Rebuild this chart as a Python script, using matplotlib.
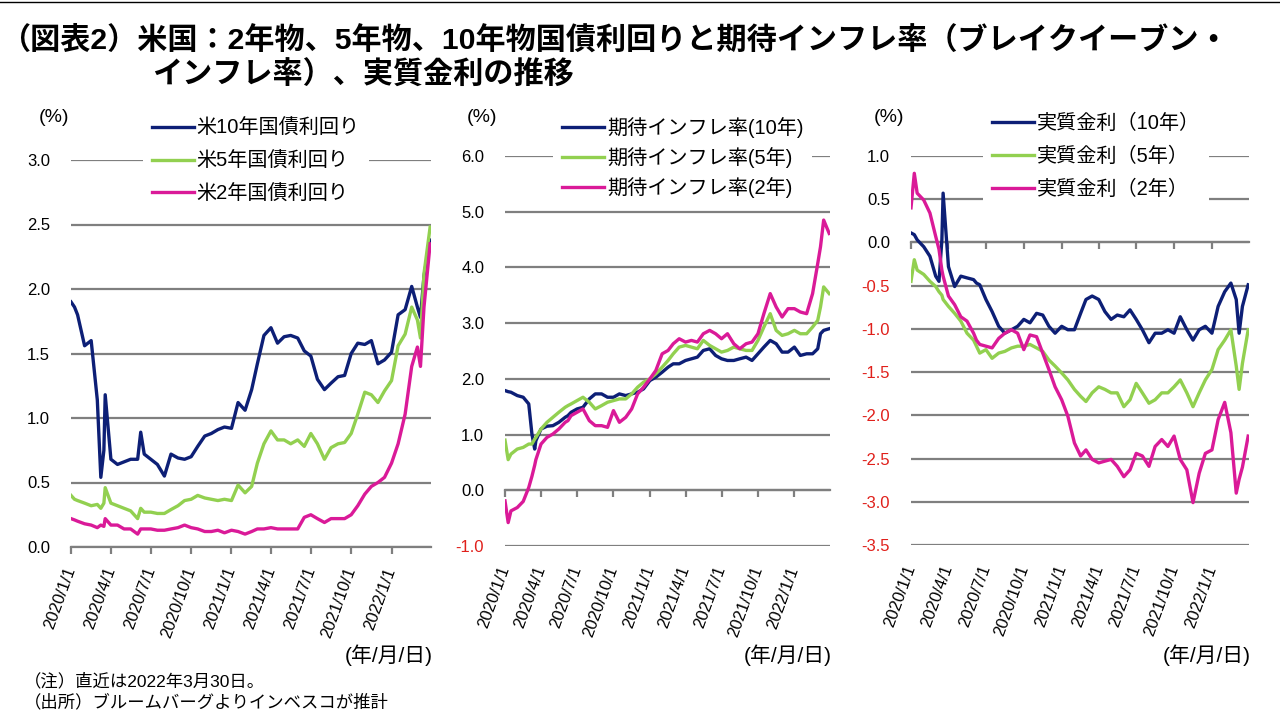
import pandas as pd
import matplotlib
matplotlib.use("Agg")
import matplotlib.pyplot as plt
import matplotlib.dates as mdates
import matplotlib.transforms as mtransforms
from matplotlib.lines import Line2D

plt.rcParams['font.family'] = ['Liberation Sans', 'Noto Sans CJK JP']

# observation dates (roughly semi-monthly, extra points around sharp moves)
dates = pd.to_datetime([
    "2020-01-01", "2020-01-09", "2020-01-16", "2020-02-01", "2020-02-16",
    "2020-03-01", "2020-03-09", "2020-03-16", "2020-03-19", "2020-04-01",
    "2020-04-16", "2020-05-01", "2020-05-16", "2020-06-01", "2020-06-08",
    "2020-06-16", "2020-07-01", "2020-07-16", "2020-08-01", "2020-08-16",
    "2020-09-01", "2020-09-16", "2020-10-01", "2020-10-16", "2020-11-01",
    "2020-11-16", "2020-12-01", "2020-12-16", "2021-01-01", "2021-01-16",
    "2021-02-01", "2021-02-16", "2021-03-01", "2021-03-16", "2021-04-01",
    "2021-04-16", "2021-05-01", "2021-05-16", "2021-06-01", "2021-06-16",
    "2021-07-01", "2021-07-16", "2021-08-01", "2021-08-16", "2021-09-01",
    "2021-09-16", "2021-10-01", "2021-10-16", "2021-11-01", "2021-11-16",
    "2021-12-01", "2021-12-16", "2022-01-01", "2022-01-16", "2022-02-01",
    "2022-02-16", "2022-03-01", "2022-03-08", "2022-03-16", "2022-03-30",
])

# panel 1: nominal yields (%)
yield_10y = [1.90, 1.86, 1.80, 1.56, 1.60, 1.14, 0.54, 0.75, 1.18, 0.68,
             0.64, 0.66, 0.68, 0.68, 0.89, 0.72, 0.68, 0.64, 0.55, 0.72,
             0.69, 0.68, 0.70, 0.78, 0.86, 0.88, 0.91, 0.93, 0.92, 1.12,
             1.06, 1.22, 1.42, 1.64, 1.70, 1.58, 1.63, 1.64, 1.62, 1.52,
             1.48, 1.30, 1.22, 1.27, 1.32, 1.33, 1.50, 1.58, 1.57, 1.60,
             1.42, 1.45, 1.51, 1.80, 1.84, 2.02, 1.86, 1.78, 2.10, 2.38]
yield_5y = [0.40, 0.37, 0.36, 0.34, 0.32, 0.33, 0.30, 0.34, 0.46, 0.34,
            0.32, 0.30, 0.28, 0.22, 0.30, 0.27, 0.27, 0.26, 0.26, 0.29,
            0.32, 0.36, 0.37, 0.40, 0.38, 0.37, 0.36, 0.37, 0.36, 0.48,
            0.42, 0.47, 0.65, 0.80, 0.90, 0.83, 0.83, 0.80, 0.83, 0.78,
            0.88, 0.80, 0.68, 0.77, 0.80, 0.81, 0.88, 1.03, 1.20, 1.18,
            1.12, 1.21, 1.29, 1.56, 1.65, 1.86, 1.76, 1.62, 2.12, 2.48]
yield_2y = [0.22, 0.21, 0.20, 0.18, 0.17, 0.15, 0.17, 0.16, 0.22, 0.17,
            0.17, 0.14, 0.14, 0.10, 0.14, 0.14, 0.14, 0.13, 0.13, 0.14,
            0.15, 0.17, 0.15, 0.14, 0.12, 0.12, 0.13, 0.11, 0.13, 0.12,
            0.10, 0.12, 0.14, 0.14, 0.15, 0.14, 0.14, 0.14, 0.14, 0.23,
            0.25, 0.22, 0.19, 0.22, 0.22, 0.22, 0.25, 0.32, 0.41, 0.47,
            0.50, 0.54, 0.65, 0.80, 1.03, 1.40, 1.55, 1.40, 1.86, 2.35]

# panel 2: breakeven inflation (%)
bei_10y = [1.79, 1.77, 1.76, 1.70, 1.67, 1.55, 1.01, 0.74, 0.89, 1.10,
           1.15, 1.16, 1.22, 1.31, 1.34, 1.40, 1.46, 1.49, 1.64, 1.73,
           1.73, 1.67, 1.67, 1.73, 1.70, 1.73, 1.76, 1.82, 1.97, 2.03,
           2.12, 2.21, 2.27, 2.27, 2.33, 2.36, 2.39, 2.51, 2.54, 2.42,
           2.36, 2.33, 2.33, 2.36, 2.39, 2.33, 2.45, 2.57, 2.69, 2.63,
           2.48, 2.48, 2.57, 2.42, 2.45, 2.45, 2.54, 2.81, 2.87, 2.90]
bei_5y = [0.90, 0.55, 0.65, 0.74, 0.77, 0.83, 0.83, 0.92, 0.95, 1.10,
          1.22, 1.31, 1.40, 1.49, 1.52, 1.55, 1.61, 1.67, 1.58, 1.46,
          1.52, 1.58, 1.61, 1.64, 1.64, 1.73, 1.85, 1.94, 2.00, 2.09,
          2.21, 2.33, 2.45, 2.57, 2.60, 2.57, 2.54, 2.69, 2.60, 2.54,
          2.48, 2.51, 2.57, 2.54, 2.51, 2.51, 2.69, 2.93, 3.17, 2.87,
          2.78, 2.81, 2.87, 2.81, 2.81, 2.93, 3.05, 3.29, 3.65, 3.53]
bei_2y = [-0.19, -0.58, -0.37, -0.31, -0.20, 0.05, 0.25, 0.45, 0.55, 0.83,
          0.95, 1.01, 1.10, 1.22, 1.25, 1.34, 1.40, 1.46, 1.25, 1.16,
          1.16, 1.13, 1.43, 1.22, 1.31, 1.46, 1.73, 1.85, 2.00, 2.15,
          2.45, 2.51, 2.63, 2.72, 2.66, 2.69, 2.66, 2.81, 2.87, 2.81,
          2.72, 2.81, 2.63, 2.54, 2.63, 2.66, 2.81, 3.17, 3.53, 3.29,
          3.11, 3.26, 3.26, 3.20, 3.17, 3.53, 4.07, 4.37, 4.85, 4.61]

# panel 3: real yields (%)
real_10y = [0.11, 0.09, 0.03, -0.05, -0.16, -0.39, -0.45, 0.03, 0.57, -0.28,
            -0.51, -0.39, -0.41, -0.43, -0.47, -0.49, -0.66, -0.80, -0.97, -1.05,
            -1.01, -0.97, -0.89, -0.93, -0.82, -0.84, -0.97, -1.05, -0.97, -1.01,
            -1.01, -0.82, -0.66, -0.62, -0.66, -0.80, -0.89, -0.84, -0.86, -0.78,
            -0.89, -1.01, -1.16, -1.05, -1.05, -1.01, -1.05, -0.86, -1.01, -1.13,
            -1.01, -0.97, -1.05, -0.74, -0.57, -0.47, -0.66, -1.05, -0.74, -0.49]
real_5y = [-0.45, -0.20, -0.32, -0.37, -0.45, -0.51, -0.57, -0.61, -0.66, -0.74,
           -0.82, -0.91, -1.05, -1.13, -1.20, -1.28, -1.24, -1.34, -1.28, -1.26,
           -1.22, -1.20, -1.20, -1.18, -1.22, -1.26, -1.36, -1.43, -1.51, -1.59,
           -1.70, -1.78, -1.84, -1.74, -1.67, -1.70, -1.74, -1.74, -1.90, -1.82,
           -1.63, -1.74, -1.86, -1.82, -1.74, -1.74, -1.67, -1.59, -1.74, -1.90,
           -1.74, -1.59, -1.47, -1.24, -1.13, -1.01, -1.43, -1.70, -1.40, -1.01]
real_2y = [0.40, 0.80, 0.57, 0.49, 0.34, 0.07, -0.08, -0.32, -0.39, -0.62,
           -0.72, -0.86, -0.91, -1.05, -1.13, -1.18, -1.20, -1.22, -1.11, -1.05,
           -1.01, -1.05, -1.24, -1.07, -1.09, -1.28, -1.47, -1.67, -1.82, -2.01,
           -2.32, -2.47, -2.40, -2.51, -2.55, -2.53, -2.51, -2.59, -2.71, -2.63,
           -2.44, -2.47, -2.59, -2.36, -2.28, -2.36, -2.24, -2.51, -2.63, -3.01,
           -2.67, -2.44, -2.40, -2.05, -1.85, -2.20, -2.90, -2.74, -2.60, -2.24]

tick_dates = pd.to_datetime(["2020-01-01", "2020-04-01", "2020-07-01", "2020-10-01",
                             "2021-01-01", "2021-04-01", "2021-07-01", "2021-10-01",
                             "2022-01-01"])
tick_labels = ["2020/1/1", "2020/4/1", "2020/7/1", "2020/10/1", "2021/1/1",
               "2021/4/1", "2021/7/1", "2021/10/1", "2022/1/1"]

NAVY = "#0D1F76"
GREEN = "#92D050"
MAGENTA = "#DA1A98"
GRID = "#7F7F7F"
NEG_RED = "#E0201B"

W, H = 1280, 720
fig = plt.figure(figsize=(12.8, 7.2), dpi=100)

# thin frame line at the very top
fig.add_artist(Line2D([0, 1], [1 - 1.5 / H] * 2, color="black", lw=1.0))

fig.text(0 / W, 1 - 40 / H,
         "（図表2）米国：2年物、5年物、10年物国債利回りと期待インフレ率（ブレイクイーブン・",
         fontsize=21.7, fontweight="bold", ha="left", va="center")
fig.text(152 / W, 1 - 75 / H, "インフレ率）、実質金利の推移",
         fontsize=21.7, fontweight="bold", ha="left", va="center")

panels = [
    dict(px=(71, 431, 160, 547), ylim=(0.0, 3.0), step=0.5,
         series=[(yield_10y, NAVY, "米10年国債利回り"),
                 (yield_5y, GREEN, "米5年国債利回り"),
                 (yield_2y, MAGENTA, "米2年国債利回り")],
         legend_xy=(143, 110), spacing=0.67, pct_x=54),
    dict(px=(505, 830, 156, 546), ylim=(-1.0, 6.0), step=1.0,
         series=[(bei_10y, NAVY, "期待インフレ率(10年)"),
                 (bei_5y, GREEN, "期待インフレ率(5年)"),
                 (bei_2y, MAGENTA, "期待インフレ率(2年)")],
         legend_xy=(553, 108), spacing=0.45, pct_x=482),
    dict(px=(911, 1249, 156, 545), ylim=(-3.5, 1.0), step=0.5,
         series=[(real_10y, NAVY, "実質金利（10年）"),
                 (real_5y, GREEN, "実質金利（5年）"),
                 (real_2y, MAGENTA, "実質金利（2年）")],
         legend_xy=(983, 105), spacing=0.67, pct_x=889),
]

xmin, xmax = pd.Timestamp("2020-01-01"), pd.Timestamp("2022-04-01")

for p in panels:
    x0, x1, y0, y1 = p["px"]
    ax = fig.add_axes([x0 / W, 1 - y1 / H, (x1 - x0) / W, (y1 - y0) / H])
    handles = []
    for vals, col, lab in p["series"]:
        ln, = ax.plot(dates, vals, color=col, lw=2.4, label=lab,
                      solid_joinstyle="round", zorder=3)
        handles.append(ln)
    ax.set_xlim(xmin, xmax)
    lo, hi = p["ylim"]
    ax.set_ylim(lo, hi)
    n = int(round((hi - lo) / p["step"]))
    yt = [lo + i * p["step"] for i in range(n + 1)]
    ax.set_yticks(yt, labels=["%.1f" % v for v in yt])
    for v, lbl in zip(yt, ax.get_yticklabels()):
        if v < -1e-9:
            lbl.set_color(NEG_RED)
    ax.tick_params(axis="y", length=0, pad=15, labelsize=12)
    ax.yaxis.grid(True, color=GRID, lw=1.6)
    ax.set_axisbelow(True)

    for s in ("top", "right", "left"):
        ax.spines[s].set_visible(False)
    ax.spines["bottom"].set_position(("data", 0))
    ax.spines["bottom"].set_color(GRID)
    ax.spines["bottom"].set_linewidth(1.6)
    ax.set_xticks(tick_dates)
    ax.tick_params(axis="x", direction="out", length=5, width=1.6,
                   color=GRID, labelbottom=False)

    sec = ax.secondary_xaxis("bottom")
    sec.set_xticks(mdates.date2num(tick_dates), labels=tick_labels)
    sec.tick_params(length=0, pad=15, labelsize=12)
    sec.spines["bottom"].set_visible(False)
    for lbl in sec.get_xticklabels():
        lbl.set_rotation(70)
        lbl.set_ha("right")
        lbl.set_va("center")
        lbl.set_rotation_mode("anchor")

    lx, ly = p["legend_xy"]
    ax.legend(handles=handles, loc="upper left",
              bbox_to_anchor=(lx / W, 1 - ly / H), bbox_transform=fig.transFigure,
              frameon=True, facecolor="white", edgecolor="none", framealpha=1,
              fancybox=False, fontsize=14.5, handlelength=2.1, handletextpad=0.12,
              labelspacing=p["spacing"], borderpad=0.45, borderaxespad=0)

    fig.text(p["pct_x"] / W, 1 - 118 / H, "(%)", fontsize=14, ha="center", va="center")
    tr = mtransforms.blended_transform_factory(ax.transAxes, fig.transFigure)
    ax.text(1.006, 1 - 655 / H, "(年/月/日)", transform=tr, fontsize=15,
            ha="right", va="center")

fig.text(24 / W, 1 - 681 / H, "（注）直近は2022年3月30日。", fontsize=12.5,
         ha="left", va="center")
fig.text(24 / W, 1 - 702 / H, "（出所）ブルームバーグよりインベスコが推計", fontsize=12.5,
         ha="left", va="center")

fig.savefig("out.png", dpi=100)
